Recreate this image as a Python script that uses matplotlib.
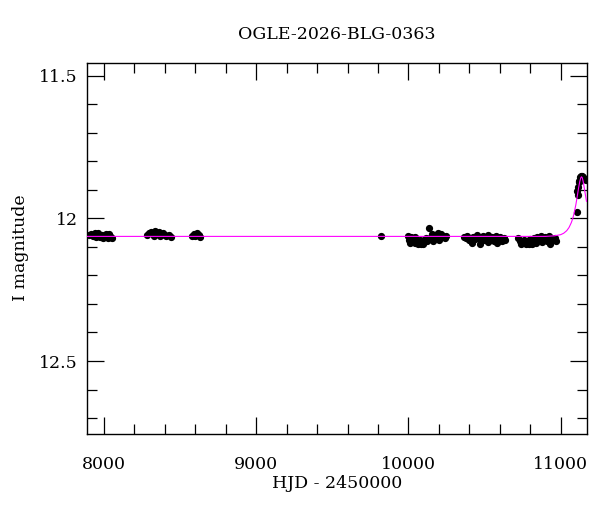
import matplotlib.pyplot as plt
from matplotlib.ticker import MultipleLocator

plt.rcParams['font.family'] = ['DejaVu Serif']

# photometry, HJD - 2450000 and I magnitude, one list pair per season
t1 = [7900, 7912, 7925, 7938, 7950, 7962, 7975, 7988, 8000, 8012, 8025, 8038, 8050, 7945, 7995, 8030]
m1 = [12.058, 12.055, 12.062, 12.052, 12.060, 12.050, 12.065, 12.058, 12.062, 12.055, 12.068, 12.060, 12.070, 12.066, 12.070, 12.054]

t2 = [8285, 8298, 8310, 8322, 8335, 8348, 8360, 8372, 8385, 8398, 8410, 8425, 8438, 8330, 8365]
m2 = [12.058, 12.052, 12.048, 12.055, 12.045, 12.050, 12.048, 12.056, 12.052, 12.058, 12.060, 12.058, 12.066, 12.060, 12.062]

t3 = [8578, 8590, 8600, 8612, 8625, 8632, 9820]
m3 = [12.062, 12.055, 12.060, 12.052, 12.058, 12.066, 12.063]

t4 = [9995, 10005, 10015, 10025, 10035, 10045, 10055, 10065, 10075, 10085, 10095, 10105, 10115,
      10125, 10135, 10145, 10155, 10165, 10175, 10185, 10195, 10205, 10215, 10225, 10240, 10250,
      10010, 10040, 10080, 10110, 10160, 10200]
m4 = [12.060, 12.075, 12.066, 12.080, 12.070, 12.085, 12.078, 12.090, 12.075, 12.082, 12.090, 12.080, 12.070,
      12.078, 12.033, 12.065, 12.055, 12.070, 12.058, 12.065, 12.050, 12.062, 12.055, 12.060, 12.068, 12.062,
      12.085, 12.065, 12.090, 12.072, 12.080, 12.075]

t5 = [10362, 10375, 10388, 10400, 10412, 10425, 10438, 10450, 10462, 10475, 10488, 10500, 10512, 10525,
      10538, 10550, 10562, 10575, 10588, 10600, 10612, 10625, 10632, 10420, 10470, 10520, 10580]
m5 = [12.065, 12.070, 12.060, 12.075, 12.080, 12.066, 12.072, 12.058, 12.070, 12.080, 12.062, 12.075, 12.068, 12.058,
      12.074, 12.066, 12.080, 12.060, 12.072, 12.065, 12.078, 12.070, 12.075, 12.085, 12.088, 12.082, 12.085]

t6 = [10722, 10735, 10748, 10760, 10772, 10785, 10798, 10810, 10822, 10835, 10848, 10860, 10872, 10885,
      10898, 10910, 10922, 10935, 10948, 10960, 10972, 10740, 10790, 10840, 10880, 10930]
m6 = [12.070, 12.078, 12.085, 12.075, 12.090, 12.080, 12.072, 12.088, 12.068, 12.078, 12.065, 12.075, 12.060, 12.072,
      12.066, 12.080, 12.062, 12.070, 12.075, 12.068, 12.078, 12.088, 12.090, 12.085, 12.082, 12.090]

t7 = [11106, 11112, 11110, 11115, 11118, 11125, 11130, 11136, 11142, 11148, 11155, 11160, 11165, 11122, 11150]
m7 = [11.977, 11.918, 11.905, 11.890, 11.872, 11.860, 11.855, 11.852, 11.852, 11.855, 11.860, 11.862, 11.865, 11.868, 11.862]

# model light curve
model_t = [7890, 10900, 10960, 11000, 11020, 11040, 11055, 11070, 11080, 11090, 11100, 11110,
           11118, 11126, 11132, 11137, 11142, 11148, 11155, 11162, 11170]
model_m = [12.063, 12.063, 12.061, 12.057, 12.052, 12.043, 12.032, 12.015, 12.000, 11.978, 11.952, 11.920,
           11.893, 11.870, 11.858, 11.854, 11.857, 11.870, 11.892, 11.915, 11.940]

fig = plt.figure(figsize=(6, 5.12), dpi=100)
ax = fig.add_axes([0.1455, 0.1523, 0.832, 0.7252])

for t, m in [(t1, m1), (t2, m2), (t3, m3), (t4, m4), (t5, m5), (t6, m6), (t7, m7)]:
    ax.plot(t, m, 'o', color='black', markersize=4.2, zorder=2)
ax.plot(model_t, model_m, color='#ff00ff', linewidth=0.8, zorder=3)

ax.set_xlim(7890, 11170)
ax.set_ylim(12.756, 11.454)

ax.xaxis.set_major_locator(MultipleLocator(1000))
ax.xaxis.set_minor_locator(MultipleLocator(200))
ax.yaxis.set_major_locator(MultipleLocator(0.5))
ax.yaxis.set_minor_locator(MultipleLocator(0.1))
ax.yaxis.set_major_formatter(plt.FuncFormatter(lambda v, p: f'{v:g}'))

ax.tick_params(which='both', direction='in', top=True, right=True, width=0.9, labelsize=12.5)
ax.tick_params(which='major', length=12)
ax.tick_params(which='minor', length=7)
ax.tick_params(axis='x', pad=16)
ax.tick_params(axis='y', pad=7)
for s in ax.spines.values():
    s.set_linewidth(1.0)

fig.text(0.562, 0.932, 'OGLE-2026-BLG-0363', ha='center', va='center', fontsize=12.5)
fig.text(0.562, 0.056, 'HJD - 2450000', ha='center', va='center', fontsize=12.5)
fig.text(0.034, 0.516, 'I magnitude', ha='center', va='center', rotation=90, fontsize=12.5)

fig.savefig('out.png', dpi=100)
